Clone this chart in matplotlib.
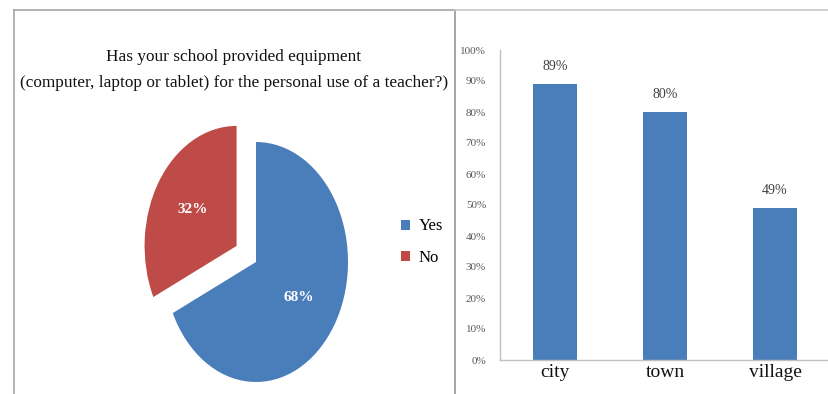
import matplotlib
matplotlib.use("Agg")
import matplotlib.pyplot as plt
from matplotlib.lines import Line2D

# Pie data
pie_labels = ["Yes", "No"]
pie_values = [68, 32]
pie_colors = ["#4A7EBB", "#BE4B48"]

# Bar data
bar_categories = ["city", "town", "village"]
bar_values = [0.89, 0.80, 0.49]
bar_color = "#4A7EBB"
y_ticks = [0.0, 0.1, 0.2, 0.3, 0.4, 0.5, 0.6, 0.7, 0.8, 0.9, 1.0]
y_tick_labels = ["0%", "10%", "20%", "30%", "40%", "50%", "60%", "70%", "80%", "90%", "100%"]

title = ("Has your school provided equipment\n"
         "(computer, laptop or tablet) for the personal use of a teacher?)")

W, H = 829, 394
fig = plt.figure(figsize=(W / 100, H / 100), dpi=100)
fig.patch.set_facecolor("white")

SERIF = ["Liberation Serif", "DejaVu Serif"]


def fx(px):
    return px / W


def fy(py):
    return 1 - py / H


# Panel frames
frame_color = "#A6A6A6"
fig.add_artist(Line2D([fx(14), fx(14)], [fy(10), 0], color=frame_color, lw=1.2))
fig.add_artist(Line2D([fx(14), fx(455)], [fy(10), fy(10)], color=frame_color, lw=1.2))
fig.add_artist(Line2D([fx(455), fx(455)], [fy(10), 0], color=frame_color, lw=1.4))
fig.add_artist(Line2D([fx(455), 1], [fy(10), fy(10)], color="#C8C8C8", lw=1.2))

# Title of the pie panel
fig.text(fx(234), fy(70), title, ha="center", va="center", fontsize=12.4,
         family=SERIF, color="#111111", linespacing=1.85)

# Pie chart (ellipse-shaped: unequal axis scaling)
cx, cy, rx, ry = 256, 262, 92, 120
xl, yl = 1.4, 1.2
ax_pie = fig.add_axes([fx(cx - xl * rx), fy(cy + yl * ry), 2 * xl * rx / W, 2 * yl * ry / H])
wedges, texts, autotexts = ax_pie.pie(
    pie_values, colors=pie_colors, startangle=90, counterclock=False,
    explode=[0, 0.25], autopct="%1.0f%%", pctdistance=0.55,
    wedgeprops=dict(linewidth=0))
for t in autotexts:
    t.set_color("white")
    t.set_fontsize(11)
    t.set_family(SERIF)
    t.set_fontweight("bold")
autotexts[1].set_position((autotexts[1].get_position()[0] * 1.02,
                           autotexts[1].get_position()[1] * 1.02))
ax_pie.set_aspect("auto")
ax_pie.set_xlim(-xl, xl)
ax_pie.set_ylim(-yl, yl)
ax_pie.axis("off")

fig.legend(wedges, pie_labels, loc="center left",
           bbox_to_anchor=(fx(386), fy(242)), frameon=False,
           handlelength=0.55, handleheight=0.55, handletextpad=0.5,
           labelspacing=0.9, prop={"family": SERIF, "size": 12})

# Bar chart
ax_bar = fig.add_axes([fx(500), fy(360), fx(830) - fx(500), (360 - 50) / H])
x = range(len(bar_categories))
bars = ax_bar.bar(x, bar_values, width=0.4, color=bar_color)
ax_bar.set_xlim(-0.5, len(bar_categories) - 0.5)
ax_bar.set_ylim(0, 1.0)
ax_bar.set_yticks(y_ticks)
ax_bar.set_yticklabels(y_tick_labels, fontsize=8, family=SERIF, color="#595959")
ax_bar.set_xticks(list(x))
ax_bar.set_xticklabels(bar_categories, fontsize=14, family=SERIF, color="#111111")
ax_bar.tick_params(axis="both", length=0)
ax_bar.tick_params(axis="y", pad=10)
ax_bar.tick_params(axis="x", pad=3)
for side in ("top", "right"):
    ax_bar.spines[side].set_visible(False)
for side in ("left", "bottom"):
    ax_bar.spines[side].set_color("#C0C0C0")
    ax_bar.spines[side].set_linewidth(1.0)
for xi, v in zip(x, bar_values):
    ax_bar.annotate(f"{round(v * 100)}%", (xi, v), xytext=(0, 8),
                    textcoords="offset points", ha="center", va="bottom",
                    fontsize=10, family=SERIF, color="#404040")

fig.savefig("out.png", dpi=100, facecolor="white")
